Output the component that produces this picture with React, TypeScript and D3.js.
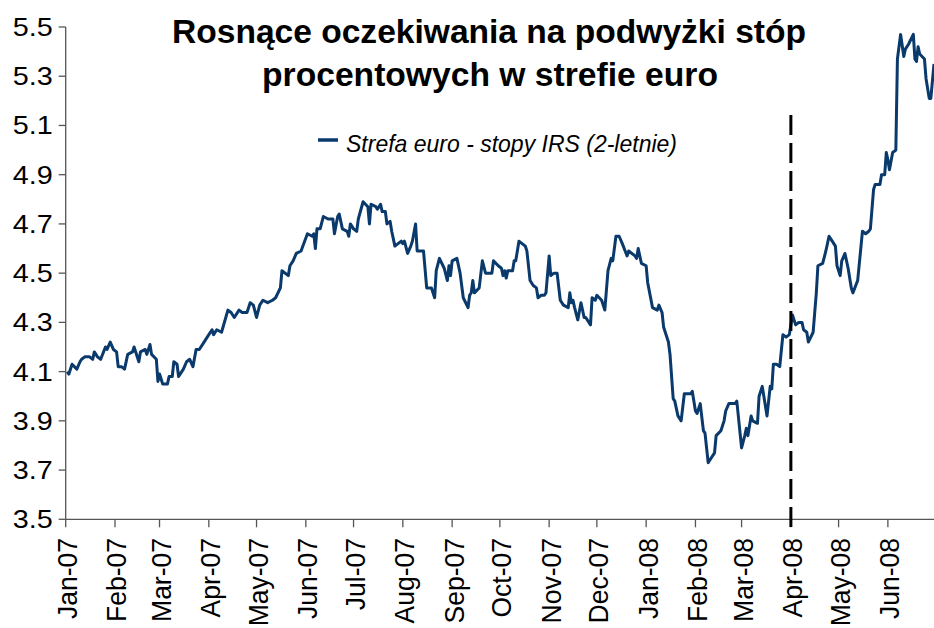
import React from "react";
import * as d3 from "d3";

const titleLines = ["Rosnące oczekiwania na podwyżki stóp", "procentowych w strefie euro"];
const seriesName = "Strefa euro - stopy IRS (2-letnie)";
const yTickValues = [3.5, 3.7, 3.9, 4.1, 4.3, 4.5, 4.7, 4.9, 5.1, 5.3, 5.5];
const monthLabels = ["Jan-07","Feb-07","Mar-07","Apr-07","May-07","Jun-07","Jul-07","Aug-07","Sep-07","Oct-07","Nov-07","Dec-07","Jan-08","Feb-08","Mar-08","Apr-08","May-08","Jun-08"];
const markerDate = "2008-04-01";

const dates = [
"2007-01-02","2007-01-03","2007-01-05","2007-01-08","2007-01-10","2007-01-11","2007-01-13","2007-01-16","2007-01-18","2007-01-19",
"2007-01-21","2007-01-23","2007-01-26","2007-01-27","2007-01-29","2007-01-31","2007-02-02","2007-02-03","2007-02-05","2007-02-07",
"2007-02-09","2007-02-12","2007-02-13","2007-02-16","2007-02-17","2007-02-20","2007-02-21","2007-02-23","2007-02-24","2007-02-27",
"2007-02-28","2007-03-01","2007-03-03","2007-03-06","2007-03-07","2007-03-09","2007-03-10","2007-03-12","2007-03-13","2007-03-16",
"2007-03-18","2007-03-20","2007-03-22","2007-03-24","2007-03-26","2007-03-29","2007-03-31","2007-04-03","2007-04-04","2007-04-06",
"2007-04-09","2007-04-13","2007-04-15","2007-04-17","2007-04-20","2007-04-22","2007-04-25","2007-04-27","2007-04-29","2007-05-01",
"2007-05-03","2007-05-05","2007-05-08","2007-05-11","2007-05-13","2007-05-16","2007-05-17","2007-05-21","2007-05-22","2007-05-24",
"2007-05-26","2007-05-29","2007-06-02","2007-06-05","2007-06-06","2007-06-07","2007-06-08","2007-06-10","2007-06-12","2007-06-15",
"2007-06-18","2007-06-19","2007-06-21","2007-06-22","2007-06-24","2007-06-27","2007-06-28","2007-06-29","2007-07-01","2007-07-03",
"2007-07-04","2007-07-07","2007-07-10","2007-07-11","2007-07-12","2007-07-15","2007-07-16","2007-07-18","2007-07-19","2007-07-21",
"2007-07-22","2007-07-24","2007-07-25","2007-07-27","2007-07-29","2007-07-31","2007-08-01","2007-08-02","2007-08-04","2007-08-06",
"2007-08-07","2007-08-09","2007-08-10","2007-08-12","2007-08-14","2007-08-16","2007-08-19","2007-08-21","2007-08-22","2007-08-24",
"2007-08-27","2007-08-29","2007-08-30","2007-08-31","2007-09-01","2007-09-04","2007-09-06","2007-09-08","2007-09-11","2007-09-12",
"2007-09-13","2007-09-14","2007-09-15","2007-09-18","2007-09-20","2007-09-22","2007-09-26","2007-09-27","2007-09-30","2007-10-02",
"2007-10-03","2007-10-04","2007-10-05","2007-10-06","2007-10-09","2007-10-10","2007-10-11","2007-10-13","2007-10-15","2007-10-17",
"2007-10-18","2007-10-20","2007-10-22","2007-10-24","2007-10-25","2007-10-27","2007-10-29","2007-10-30","2007-11-01","2007-11-02",
"2007-11-04","2007-11-06","2007-11-08","2007-11-10","2007-11-13","2007-11-14","2007-11-15","2007-11-16","2007-11-17","2007-11-19",
"2007-11-21","2007-11-23","2007-11-24","2007-11-27","2007-11-28","2007-11-30","2007-12-01","2007-12-04","2007-12-06","2007-12-08",
"2007-12-10","2007-12-11","2007-12-13","2007-12-15","2007-12-17","2007-12-20","2007-12-21","2007-12-25","2007-12-26","2007-12-27",
"2007-12-29","2008-01-01","2008-01-02","2008-01-05","2008-01-08","2008-01-09","2008-01-11","2008-01-12","2008-01-15","2008-01-16",
"2008-01-18","2008-01-19","2008-01-21","2008-01-23","2008-01-25","2008-01-29","2008-01-30","2008-02-01","2008-02-02","2008-02-04",
"2008-02-06","2008-02-07","2008-02-09","2008-02-11","2008-02-13","2008-02-14","2008-02-17","2008-02-19","2008-02-20","2008-02-22",
"2008-02-26","2008-02-27","2008-03-01","2008-03-03","2008-03-04","2008-03-05","2008-03-07","2008-03-08","2008-03-11","2008-03-12",
"2008-03-14","2008-03-17","2008-03-19","2008-03-20","2008-03-21","2008-03-23","2008-03-25","2008-03-27","2008-03-29","2008-03-31",
"2008-04-02","2008-04-04","2008-04-06","2008-04-08","2008-04-09","2008-04-11","2008-04-12","2008-04-15","2008-04-17","2008-04-18",
"2008-04-21","2008-04-23","2008-04-25","2008-04-27","2008-04-29","2008-04-30","2008-05-02","2008-05-03","2008-05-05","2008-05-07",
"2008-05-09","2008-05-10","2008-05-13","2008-05-16","2008-05-18","2008-05-20","2008-05-21","2008-05-23","2008-05-24","2008-05-27",
"2008-05-28","2008-05-30","2008-05-31","2008-06-01","2008-06-02","2008-06-04","2008-06-06","2008-06-07","2008-06-09","2008-06-11",
"2008-06-12","2008-06-14","2008-06-17","2008-06-18","2008-06-19","2008-06-20","2008-06-21","2008-06-24","2008-06-25","2008-06-27",
"2008-06-28","2008-06-30"
];

const values = [
4.10,4.09,4.13,4.11,4.14,4.15,4.16,4.16,4.15,4.18,
4.16,4.15,4.20,4.19,4.22,4.19,4.18,4.12,4.12,4.11,
4.17,4.18,4.20,4.14,4.18,4.19,4.17,4.21,4.17,4.15,
4.06,4.09,4.05,4.05,4.08,4.08,4.14,4.13,4.08,4.11,
4.14,4.15,4.12,4.19,4.19,4.22,4.24,4.27,4.25,4.27,
4.26,4.35,4.34,4.32,4.35,4.34,4.34,4.38,4.37,4.32,
4.37,4.39,4.38,4.39,4.40,4.44,4.51,4.49,4.53,4.55,
4.58,4.59,4.66,4.65,4.66,4.60,4.68,4.68,4.73,4.72,
4.72,4.66,4.73,4.74,4.68,4.67,4.65,4.70,4.68,4.67,
4.72,4.79,4.77,4.70,4.78,4.77,4.76,4.78,4.75,4.75,
4.70,4.71,4.67,4.61,4.62,4.63,4.62,4.63,4.58,4.61,
4.63,4.70,4.59,4.59,4.59,4.44,4.44,4.40,4.51,4.56,
4.52,4.47,4.53,4.49,4.55,4.56,4.50,4.40,4.36,4.41,
4.42,4.47,4.42,4.44,4.55,4.50,4.50,4.55,4.53,4.52,
4.49,4.51,4.48,4.51,4.51,4.55,4.55,4.63,4.62,4.61,
4.59,4.47,4.45,4.44,4.40,4.41,4.41,4.42,4.57,4.49,
4.50,4.50,4.39,4.37,4.36,4.42,4.38,4.39,4.36,4.31,
4.38,4.32,4.32,4.29,4.40,4.39,4.41,4.39,4.35,4.51,
4.56,4.55,4.65,4.65,4.62,4.57,4.59,4.57,4.56,4.60,
4.54,4.53,4.46,4.36,4.35,4.37,4.34,4.28,4.22,4.17,
3.99,3.98,3.92,3.90,4.01,4.01,4.02,3.94,3.93,3.97,
3.86,3.85,3.73,3.75,3.77,3.84,3.86,3.90,3.94,3.97,
3.97,3.98,3.79,3.84,3.87,3.84,3.92,3.90,3.89,4.00,
4.04,3.92,4.04,4.03,4.13,4.13,4.12,4.25,4.24,4.25,
4.33,4.29,4.30,4.30,4.27,4.26,4.22,4.26,4.42,4.53,
4.54,4.59,4.65,4.63,4.61,4.53,4.49,4.55,4.58,4.52,
4.44,4.42,4.47,4.67,4.66,4.67,4.68,4.84,4.86,4.86,
4.90,4.90,4.99,4.96,4.92,4.99,5.00,5.37,5.47,5.38,
5.41,5.43,5.47,5.37,5.36,5.42,5.39,5.37,5.29,5.21,
5.21,5.35
];

const W = 934;
const H = 628;
const FONT = "'Liberation Sans', Arial, Helvetica, sans-serif";

export default function App() {
  const parse = d3.timeParse("%Y-%m-%d");
  const data = dates.map((d, i) => ({ date: parse(d) as Date, value: values[i] }));

  const x = d3
    .scaleTime()
    .domain([new Date(2007, 0, 1), new Date(2008, 5, 30)])
    .range([65.7, 934]);
  const y = d3.scaleLinear().domain([3.5, 5.5]).range([519.3, 27]);

  const line = d3
    .line<{ date: Date; value: number }>()
    .x((d) => x(d.date))
    .y((d) => y(d.value));

  const monthTicks = d3.timeMonth.range(new Date(2007, 0, 1), new Date(2008, 5, 2));
  const markerX = x(parse(markerDate) as Date);
  const axisColor = "#555";

  return (
    <svg
      width={W}
      height={H}
      style={{ position: "absolute", left: 0, top: 0, background: "#fff" }}
      fontFamily={FONT}
    >
      <rect x={0} y={0} width={W} height={H} fill="#fff" />
      {/* axes */}
      <line x1={x.range()[0]} x2={x.range()[0]} y1={y(5.5)} y2={y(3.5)} stroke={axisColor} strokeWidth={1.3} />
      <line x1={x.range()[0]} x2={W} y1={y(3.5)} y2={y(3.5)} stroke={axisColor} strokeWidth={1.3} />
      {yTickValues.map((t) => (
        <g key={t}>
          <line x1={x.range()[0] - 7} x2={x.range()[0]} y1={y(t)} y2={y(t)} stroke={axisColor} strokeWidth={1.3} />
          <text
            x={52.7}
            y={y(t) + 9}
            textAnchor="end"
            fontSize={25}
            textLength={40}
            lengthAdjust="spacingAndGlyphs"
            fill="#000"
          >
            {t.toFixed(1)}
          </text>
        </g>
      ))}
      {monthTicks.map((m, i) => (
        <g key={i}>
          <line x1={x(m)} x2={x(m)} y1={y(3.5)} y2={y(3.5) + 8} stroke={axisColor} strokeWidth={1.3} />
          <text
            transform={`translate(${x(m) + 11.5},538) rotate(-90) scale(1,1.07)`}
            textAnchor="end"
            fontSize={26.5}
            fill="#000"
          >
            {monthLabels[i]}
          </text>
        </g>
      ))}
      {/* series */}
      <path d={line(data) || ""} fill="none" stroke="#0a396b" strokeWidth={3} strokeLinejoin="round" />
      {/* marker dashed line */}
      <line
        x1={markerX}
        x2={markerX}
        y1={527}
        y2={109}
        stroke="#000"
        strokeWidth={3}
        strokeDasharray="20 8"
      />
      {/* title */}
      <text x={489} y={43} textAnchor="middle" fontSize={34} fontWeight="bold" textLength={634} lengthAdjust="spacingAndGlyphs" fill="#000">
        {titleLines[0]}
      </text>
      <text x={490} y={86} textAnchor="middle" fontSize={34} fontWeight="bold" textLength={456} lengthAdjust="spacingAndGlyphs" fill="#000">
        {titleLines[1]}
      </text>
      {/* legend */}
      <line x1={318} x2={338} y1={140} y2={140} stroke="#0a396b" strokeWidth={3.5} />
      <text x={346} y={152} fontSize={24} fontStyle="italic" textLength={331} lengthAdjust="spacingAndGlyphs" fill="#000">
        {seriesName}
      </text>
    </svg>
  );
}
